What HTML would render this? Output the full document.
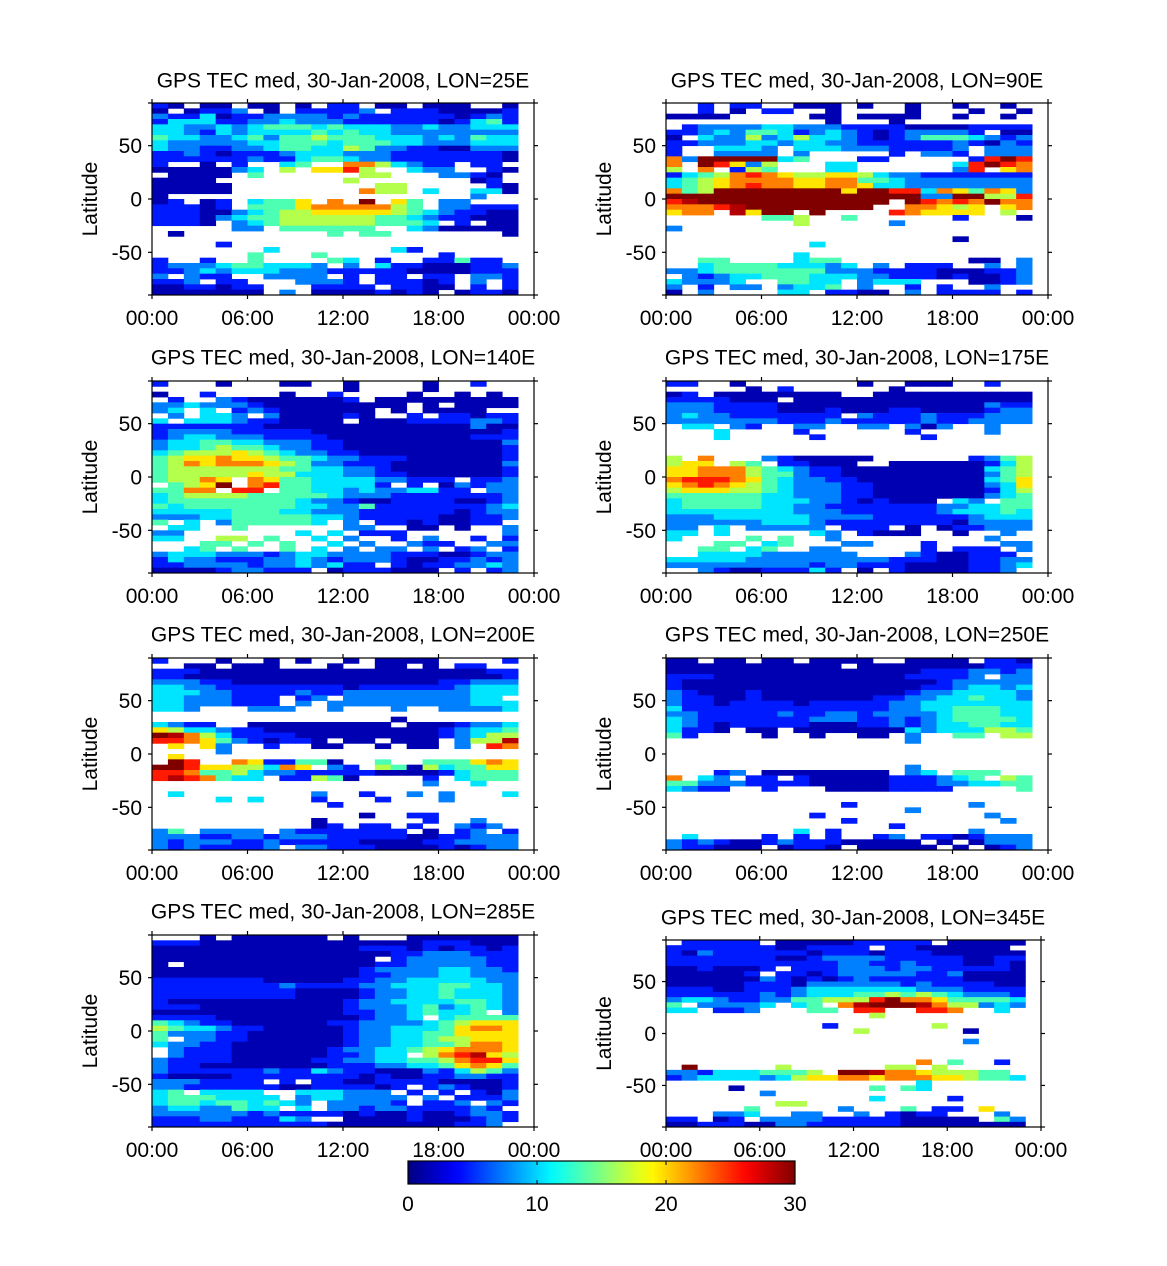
<!DOCTYPE html>
<html><head><meta charset="utf-8"><title>GPS TEC med</title>
<style>
body{margin:0;background:#fff;}
svg{display:block;font-family:"Liberation Sans",Arial,sans-serif;}
</style></head>
<body>
<svg id="fig" width="1167" height="1266" viewBox="0 0 1167 1266" xmlns="http://www.w3.org/2000/svg"></svg>
<script>
// ---- data: one string per 5-degree latitude row (90N -> 90S), one char per hour bin
// '.' = no data, '0'..'9' = TEC/3, 'a' = 30
const hourTicks = [0, 6, 12, 18, 24];
const hourTickLabels = ["00:00", "06:00", "12:00", "18:00", "00:00"];
const latTicks = [50, 0, -50];
const latTickLabels = ["50", "0", "-50"];
const cbTicks = [0, 10, 20, 30];
const cbTickLabels = ["0", "10", "20", "30"];
const panelTitles = ["LON=25E","LON=90E","LON=140E","LON=175E","LON=200E","LON=250E","LON=285E","LON=345E"];

const lon25 = [
"10.00.00.0.11.00.000..0","0.0112.0.11112.11100001","21130112222121111110121","13331122322211111101341",
"33223234443433322322333","33213233334343322222222","43322342445444333232433","32222233444344433222333",
"32211223443354221100222","11210111233322211111110","11111121134432211111110","1..0.1..34..7753211.11.",
"0000023.5.6685..322..10",".0000.4......55...2210.","0000........5.......01.","00000.........55.....10",
"00000........755.3..330","0...................2..","01.01.3446.7.a.64.22...","11101.44467777754.22111",
"11100234556666654321100","11102344555555443211000","1110.2345555554443.1.00",".....22.444444..3200000",
".0.........4.44.......0",".......................","....1..................",".......3.......31......",
"......4...4.......1....","1..1..4....43.1..11411.","12223443332.2.311000112","11232333222111110000111",
"2.211..2222.1.11.11.221","112.11...2221.11101.2.1","0011011...1111.1100.1.1","0000000.2.00001010.0110"];
const lon90 = [
"..1.11..000.0..0..0..0.","..1.0.11..0....0...0..0","0000.....00.0000..0..0.","..........0...0........",
".12222332221111000011111","11232443123210122221.00","0.3225235332101244432122","11222332332211111121021",
"1..3332.33322211112.2222","1..2222.2.....1.221.222","72aaaaa34...11.....18a8","7.a8625...33......38a87",
"5.7.154...33......28.67","13457876556653221111111","34567777667744322222222","34567877667763322222222",
"745aaaaaaaa6aa883764762","aaaaaaaaaaaaaaaa22aa558","89aaaaaaaaaaaa.a8787a77","77789aaaaaaaa..77656.67",
"677.96aa.a....876666.5.","......445..4......1...0","........5.....2........","2......................",
".......................","..................0....",".........3.............",".......................",
"........3..............","..44....344........00.2","..3444433323.2.111..2.2","22344444442221111000112",
".2123344433322111010012","32223..4433.2333...0012","2.1.22.2334.2..1.1..2..","0.2....33.1100.2.1111.1"];
const lon140 = [
"1...0...00..0....0..1..","............0....0.....","0..1....0..1....0..0.0.",".1..210000001.000000000",
"2232221000000000.0.00000","23.3.121000000.0.0000..",".2.332.2000010..1.11011.","3.3332110000.0001111221",
"11111110000000000000200","12222111110000000000001","12332221111000000000111","23344332221100000000002",
"23345443221100000000001","34555654322110000000001.","45667665443221110000001","45767776542211100000002",
"45555555443322100000001","45555565533322110000001","45576.7644333322111.112",".456a.784433331.1.02122",
"4477.88.443323223311.22","34555544444322211111112","34444444432210011110012","43444444433224111111123",
"33333444332221111110122","22233444443321111100112","4.3.2444443.2.11010011..",".33..4......22..00.0..2.",
"22.......3.3.111......2","33..55.4..3.2..1.2..1.1","...44.4.4..3.2..211..22","..34.4..4.3.2.22.2.12.1",
"23332221233222211100122","13221112232122210011212","11222212232311.10112232","0000122111.0111000.1.12"];
const lon175 = [
"11..0.......0..000..1..",".....0.1......0........","01.00000000..0000000000.","1111000.000000000000000",
"22211110000000000000211","22211110001000110000122","23221111111.21112111222","22222221112111112112222",
".33.21..22..22.202..2..","...3....1......1....2..","...3.....1......1......",".......................",
".......................",".......................","5.7...2100000......1245","566.54.11000..000000135",
"66777543211000000000345","66777544211000000000245","78887643221100000000346","67876543222110000000236",
"56665543222110000000135","44444433222110000000234","34444433322101000.32.44","34444433221111111223344",
"33333333222111111233343","22233333322221111112333","22222233321111111102222","22.3.22222.111.0.011222",
"33.3.....32.1000..0..2.","3....4.4..2.........2..","...44.34...22...1....22","..44.34..22.....1.111.2",
"..3333222222...2100111.","33333222222222111001122","22222222212211100001123","..210011131.0.10000112"];
const lon200 = [
"1...0..0.0..0.0000....1","..00.000...0..00.0.11..","11100000000000000000011","11000000000000000000001",
"22211000000000000011222","33221111111101111112333","33322111121122222222333","33222111.12.2222222233.",
"33222111.2.222222222333","332...222..2...2..22223",".......................","...............0.......",
"3211..000000000.0001223","65332110000000000012334","a9753111100000000012355","88764210110.00.000.2559",
".6.62..1..00..0.00.2.87","....2..................",".6.....................",".a8..7611440..4..444676",
"aa86655376.21.540534466","88744532211111000013444","8987433.11540....1.3444",".................2..3..",
".......................",".3........2..1..2.2...3","....3.3...1...1...2....","...........1...........",
".......................",".............0..11.....","..........0......1..2..","..........01.11.1..212.",
"24.2222.21111111.0.12.1","22211221222111110011222","21222112111110000112222","21211112.22111000010122"];
const lon250 = [
"00.00.00.0000..0000.110","00000000000.00000000111","00000000000000001112212","11100000000000011112.22",
"10000000000000000122222","10000000000000001123323","21000100000000012233332","21100100000001122334332",
"21101111011111223333333","31111111111111223344433","22111112112212222344433","32111111122211212344443",
"32101111100011212334433","3110.00.000000032333554","41....0..0..00.2..44.55","...............2.......",
".......................",".......................",".......................",".......................",
"...............2.......","...12.00000000.23.444..","7.32.11.100000111234.54","44222111100000111223344",
"3211..1...00001111....4",".......................",".......................","...........1.......2...",
"...............2.......",".........1..........2..","...........1.........2.","..............1........",
"........3.1........2...",".3....1.1.1..12.1101222","2121001211100000.0.0222","211000.0110.00000.0.012"];
const lon285 = [
"...0.000000.0...0000000","11100000000000000111000","00000000000001110101101","00000000000000011222111",
"00000000000000.12222211","0.000000000000112222211","00000000000001222233221","00000000000001122233222",
"11111110000011223333322","11111111211112233344332","11111111100001223343332","11111111100001223343332",
"10000000000012233334432","11100000000012223423432","000000000000112234334.2","11110000000001223.34444",
"43211000000112222345666","54332110000012233346776","42221100000012233446666","4.221100000012233455666",
"32211000000012233445776",".2111000000122334567776",".211100000011233.578965","21111000001122334457886",
"21100000000111223346764","21111112113211000213542","10000111111110100112211","2221111.1.1100111100001",
"2211111100111101.121001","34.3333..333222.1.1.102","34443333.2332222.2.1112","3443443432.22221.112.21",
"23322433.3.22122111121","22222212111101001001221","1112211132..00001000121.","1111111111100000000112"];
const lon345 = [
".11111.0000011111.00000","1111111001111.11000000.","102111111011101110000001","11111110012222111110011",
"11111111111221121110010","0010001.111222122111110","000001.11012222211200001","00000021010121111110000",
"00000111022222212111100","11100111233333332221111","11111121233344545432221","23321122445558a77644443",
"4.22223.34.79aaa9755232","33.112...44.88..887..3.",".............5.........",".......................",
"..........1......5.....","............5......0...",".......................","...................2...",
".......................",".......................",".......................","................7.4..1.",
".a.....5......55.5.....","2213334445.aa977655544 4","12333323566776777665443","................3......",
"....0........4.43......","......2................",".............3....1....",".......55..............",
".....4.....2...4.11.6..","...223..22..2.1011...2.","11.01.22221111100000.42","00111002211111100000000"];
const panelData = [lon25, lon90, lon140, lon175, lon200, lon250, lon285, lon345];

// ---- layout
const NS = "http://www.w3.org/2000/svg";
const svg = document.getElementById("fig");
const panels = [
 {x0:152,x1:534,y0:103,y1:295,tx:343,ty:80},
 {x0:666,x1:1048,y0:103,y1:295,tx:857,ty:80},
 {x0:152,x1:534,y0:381,y1:573,tx:343,ty:357},
 {x0:666,x1:1048,y0:381,y1:573,tx:857,ty:357},
 {x0:152,x1:534,y0:658,y1:850,tx:343,ty:634},
 {x0:666,x1:1048,y0:658,y1:850,tx:857,ty:634},
 {x0:152,x1:534,y0:935,y1:1127,tx:343,ty:911},
 {x0:666,x1:1041,y0:940,y1:1127,tx:853,ty:917}
];
function mk(tag, attrs, parent){
  const e = document.createElementNS(NS, tag);
  for (const k in attrs) e.setAttribute(k, attrs[k]);
  (parent||svg).appendChild(e);
  return e;
}
function jet(v){
  const t = Math.max(0, Math.min(1, v/30));
  const c = x => Math.round(255*Math.max(0, Math.min(1, x)));
  return "rgb(" + c(1.5-Math.abs(4*t-3)) + "," + c(1.5-Math.abs(4*t-2)) + "," + c(1.5-Math.abs(4*t-1)) + ")";
}
function codeVal(ch){
  if (ch === "a") return 30;
  return parseInt(ch, 10) * 3 + 1.5;
}

panels.forEach((p, i) => {
  const g = mk("g", {});
  
  
  const xs = h => p.x0 + (p.x1 - p.x0) * h / 24;
  const ys = lat => p.y0 + (p.y1 - p.y0) * (90 - lat) / 180;
  const rows = panelData[i];
  rows.forEach((row, r) => {
    const latTop = 90 - 5*r, latBot = 85 - 5*r;
    for (let h = 0; h < 23; h++) {
      const ch = row[h];
      if (!ch || ch === "." || ch === " ") continue;
      const v = codeVal(ch);
      if (isNaN(v)) continue;
      const x = xs(h), y = ys(latTop);
      const cell = mk("rect", {x: x.toFixed(2), y: y.toFixed(2),
        width: (xs(h+1)-x+0.4).toFixed(2), height: (ys(latBot)-y+0.4).toFixed(2), fill: jet(v)}, g);
      
      
    }
  });
  const fr = mk("rect", {x:p.x0, y:p.y0, width:p.x1-p.x0, height:p.y1-p.y0, fill:"none", stroke:"#000", "stroke-width":1.2}, g);
  
  
  hourTicks.forEach((h, k) => {
    const x = xs(h);
    mk("line", {x1:x, y1:p.y1, x2:x, y2:p.y1+4, stroke:"#000", "stroke-width":1.2}, g);
    mk("line", {x1:x, y1:p.y0, x2:x, y2:p.y0-4, stroke:"#000", "stroke-width":1.2}, g);
    const t = mk("text", {x:x, y:p.y1+30, "font-size":21, "text-anchor":"middle"}, g);
    t.textContent = hourTickLabels[k];
    
    
  });
  latTicks.forEach((lat, k) => {
    const y = ys(lat);
    mk("line", {x1:p.x0, y1:y, x2:p.x0-4, y2:y, stroke:"#000", "stroke-width":1.2}, g);
    mk("line", {x1:p.x1, y1:y, x2:p.x1+4, y2:y, stroke:"#000", "stroke-width":1.2}, g);
    const t = mk("text", {x:p.x0-10, y:y+7.5, "font-size":21, "text-anchor":"end"}, g);
    t.textContent = latTickLabels[k];
    
    
  });
  mk("line", {x1:p.x0, y1:p.y1, x2:p.x0-4, y2:p.y1, stroke:"#000", "stroke-width":1.2}, g);
  mk("line", {x1:p.x1, y1:p.y1, x2:p.x1+4, y2:p.y1, stroke:"#000", "stroke-width":1.2}, g);
  mk("line", {x1:p.x0, y1:p.y0, x2:p.x0-4, y2:p.y0, stroke:"#000", "stroke-width":1.2}, g);
  mk("line", {x1:p.x1, y1:p.y0, x2:p.x1+4, y2:p.y0, stroke:"#000", "stroke-width":1.2}, g);
  const cy = (p.y0 + p.y1) / 2;
  const yl = mk("text", {x:p.x0-55, y:cy, "font-size":21, "text-anchor":"middle", transform:"rotate(-90 " + (p.x0-55) + " " + cy + ")"}, g);
  yl.textContent = "Latitude";
  
  
  const tt = mk("text", {x:p.tx, y:p.ty+7.5, "font-size":21, "text-anchor":"middle"}, g);
  tt.textContent = "GPS TEC med, 30-Jan-2008, " + panelTitles[i];
  
  
});

// ---- colorbar
const cb = {x0:408, x1:795, y0:1161, y1:1184};
const cbg = mk("g", {});


const defs = mk("defs", {});
const grad = mk("linearGradient", {id:"jetgrad", x1:"0", x2:"1", y1:"0", y2:"0"}, defs);
for (let s = 0; s <= 30; s++) mk("stop", {offset:(s/30).toFixed(3), "stop-color":jet(s)}, grad);
mk("rect", {x:cb.x0, y:cb.y0, width:cb.x1-cb.x0, height:cb.y1-cb.y0, fill:"url(#jetgrad)", stroke:"#000", "stroke-width":1.2}, cbg);
cbTicks.forEach((v, k) => {
  const x = cb.x0 + (cb.x1 - cb.x0) * v / 30;
  mk("line", {x1:x, y1:cb.y1, x2:x, y2:cb.y1-4, stroke:"#000", "stroke-width":1}, cbg);
  mk("line", {x1:x, y1:cb.y0, x2:x, y2:cb.y0+4, stroke:"#000", "stroke-width":1}, cbg);
  const t = mk("text", {x:x, y:cb.y1+27, "font-size":21, "text-anchor":"middle"}, cbg);
  t.textContent = cbTickLabels[k];
  
  
});
</script>
</body></html>
